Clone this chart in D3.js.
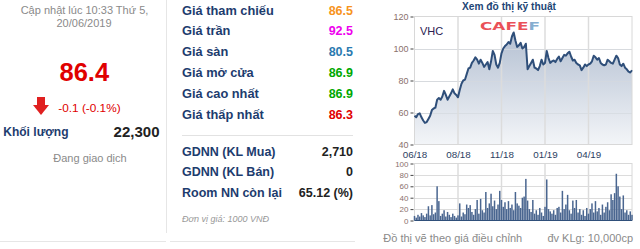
<!DOCTYPE html>
<html><head><meta charset="utf-8">
<script src="https://cdn.jsdelivr.net/npm/d3@7"></script>
<style>
html,body{margin:0;padding:0;background:#fff;}
svg{display:block;font-family:"Liberation Sans",Arial,sans-serif;}
</style></head>
<body>
<svg id="c" width="640" height="249"></svg>
<script>
// ---------- data ----------
const priceIndex = [0,2,4,6,8,10,12,14,16,18,20,22,24,26,28,30,32,34,36,38,40,42,44,46,48,50,52,54,56,58,60,62,64,66,68,70,72,74,76,78,80,82,84,86,88,90,92,94,96,98,100,102,104,106,108,110,112,114,116,118,120,122,124,126,128,130,132,134,136,138,140,142,144,146,148,150,152,154,156,158,160,162,164,166,168,170,172,174,176,178,180,182,184,186,188,190,192,194,196,198,200,202,204,206,208,210,212,214,216,218,220,222,224,226,228,230,232,234,236,238,240,242,244,246,248,250];
const priceValues = [58,57,59,59.5,57,55,53.5,54,56,58,61.5,62.5,63,68,69,68,70,73.5,71,68,70,72,74.5,72,71,69.5,74,78,80,80.5,84,87.5,88,91,92.5,94.5,93,90.5,93,91,88.5,90,91.5,87,92,98.5,96,90,88,91,97,100,101.5,102.5,104,103,107.5,110,105,101,102,103.5,100,101,103,87,89,91,93,88,87.5,86.5,89,93,90,91,98.5,94,91,92,92.5,91.5,93.5,95,92,94,96,95.5,97,98,95,92.5,93,91,90,89.5,86.5,88,90,89,90,90.5,92,95.5,94.5,93,94,91,90,89.5,90,93,92,91,90.5,93,95.5,94,90,89,90.5,88,87,85.5,85,86.4];
const volumeValues = [8,5,10,7,13,9,6,12,25,9,27,11,14,60,34,8,12,18,7,15,10,6,12,8,5,9,30,7,14,11,28,22,27,15,10,20,36,12,38,18,14,50,22,30,47,25,35,20,28,52,36,24,32,20,34,22,28,18,50,30,26,22,40,42,73,35,20,15,36,12,18,10,22,14,8,24,72,20,16,12,18,10,22,24,14,52,20,28,45,18,12,35,22,36,14,20,10,18,8,22,12,20,30,14,34,16,22,10,28,14,24,32,18,46,36,48,82,60,42,20,44,14,18,10,16,10];
const xTickIndex = [0,50,100,150,200];
const xTickLabels = ["06/18","08/18","11/18","01/19","04/19"];
const priceTicks = [40,60,80,100,120];
const volumeTicks = [0,20,40,60,80,100];

const infoLabels = ["Giá tham chiếu","Giá trần","Giá sàn","Giá mở cửa","Giá cao nhất","Giá thấp nhất"];
const infoValues = ["86.5","92.5","80.5","86.9","86.9","86.3"];
const infoColors = ["#f7941d","#ee00ee","#2a7ab0","#00a800","#00a800","#e00000"];
const foreignLabels = ["GDNN (KL Mua)","GDNN (KL Bán)","Room NN còn lại"];
const foreignValues = ["2,710","0","65.12 (%)"];

// ---------- drawing ----------
const svg = d3.select("#c");
const navy = "#1d3c6e";

// left panel
svg.append("line").attr("x1",166.5).attr("x2",166.5).attr("y1",0).attr("y2",233).attr("stroke","#e6e6e6");
svg.append("text").attr("x",84.5).attr("y",14).attr("text-anchor","middle").attr("font-size",11).attr("fill","#8a8a8a").text("Cập nhật lúc 10:33 Thứ 5,");
svg.append("text").attr("x",84).attr("y",27).attr("text-anchor","middle").attr("font-size",11).attr("fill","#8a8a8a").text("20/06/2019");
svg.append("text").attr("x",84.3).attr("y",81).attr("text-anchor","middle").attr("font-size",25.5).attr("font-weight","bold").attr("fill","#e00000").text("86.4");
// down arrow
const ar = svg.append("g").attr("fill","#e02020");
ar.append("rect").attr("x",37).attr("y",97).attr("width",8).attr("height",9);
ar.append("path").attr("d","M33,105 L49,105 L41,115 Z");
svg.append("text").attr("x",58.3).attr("y",111.5).attr("font-size",11.8).attr("fill","#e00000").text("-0.1 (-0.1%)");
svg.append("text").attr("x",3.3).attr("y",136).attr("font-size",12).attr("font-weight","bold").attr("fill",navy).text("Khối lượng");
svg.append("text").attr("x",159.5).attr("y",136.5).attr("text-anchor","end").attr("font-size",15).attr("font-weight","bold").attr("fill","#222").text("22,300");
svg.append("text").attr("x",90).attr("y",162).attr("text-anchor","middle").attr("font-size",11).attr("fill","#8a8a8a").text("Đang giao dịch");
svg.append("line").attr("x1",0).attr("x2",166).attr("y1",241.5).attr("y2",241.5).attr("stroke","#e6e6e6");

// middle panel
const rowY = d3.scaleLinear().domain([0,5]).range([14.5,118.5]);
infoLabels.forEach((l,i)=>{
  svg.append("text").attr("x",182).attr("y",rowY(i)).attr("font-size",12.8).attr("font-weight","bold").attr("fill",navy).text(l);
  svg.append("text").attr("x",353).attr("y",rowY(i)).attr("text-anchor","end").attr("font-size",12.5).attr("font-weight","bold").attr("fill",infoColors[i]).text(infoValues[i]);
});
svg.append("line").attr("x1",182).attr("x2",353).attr("y1",135.5).attr("y2",135.5).attr("stroke","#e2e2e2");
const fY = d3.scaleLinear().domain([0,2]).range([155.5,197]);
foreignLabels.forEach((l,i)=>{
  svg.append("text").attr("x",182).attr("y",fY(i)).attr("font-size",12.5).attr("font-weight","bold").attr("fill",navy).text(l);
  svg.append("text").attr("x",353).attr("y",fY(i)).attr("text-anchor","end").attr("font-size",12.5).attr("font-weight","bold").attr("fill","#222").text(foreignValues[i]);
});
svg.append("text").attr("x",182).attr("y",221.5).attr("font-size",9).attr("font-style","italic").attr("fill","#999").text("Đơn vị giá: 1000 VNĐ");
svg.append("line").attr("x1",170).attr("x2",355).attr("y1",241.5).attr("y2",241.5).attr("stroke","#e6e6e6");

// right panel : chart
svg.append("text").attr("x",509).attr("y",9.5).attr("text-anchor","middle").attr("font-size",10.2).attr("font-weight","bold").attr("fill","#1d4676").text("Xem đồ thị kỹ thuật");

const x = d3.scaleLinear().domain([0,250]).range([414.5,632]);
const y = d3.scaleLinear().domain([40,120]).range([144.5,16.5]);
const yv = d3.scaleLinear().domain([0,100]).range([220.5,163.5]);

const defs = svg.append("defs");
const grad = defs.append("linearGradient").attr("id","g").attr("gradientUnits","userSpaceOnUse")
  .attr("x1",0).attr("y1",y(110)).attr("x2",0).attr("y2",y(40));
grad.append("stop").attr("offset",0).attr("stop-color","#b4c0d2");
grad.append("stop").attr("offset",1).attr("stop-color","#f3f5f8");

// price grid
const gridColor = "#dcdcdc";
svg.append("g").selectAll("line").data(priceTicks.slice(1,-1)).join("line")
  .attr("x1",x(0)).attr("x2",x(250)).attr("y1",d=>Math.round(y(d))+0.5).attr("y2",d=>Math.round(y(d))+0.5).attr("stroke",gridColor);
// area
const pts = priceIndex.map((d,i)=>[d,priceValues[i]]);
svg.append("path").datum(pts).attr("fill","url(#g)")
  .attr("d",d3.area().x(d=>x(d[0])).y0(y(40)).y1(d=>y(d[1])));
svg.append("g").selectAll("line").data(priceTicks.slice(1,-1)).join("line")
  .attr("x1",x(0)).attr("x2",x(250)).attr("y1",d=>Math.round(y(d))+0.5).attr("y2",d=>Math.round(y(d))+0.5).attr("stroke","#d4d8de").attr("stroke-opacity",0.7);
svg.append("g").selectAll("line").data(xTickIndex.slice(1)).join("line")
  .attr("x1",d=>x(d)).attr("x2",d=>x(d)).attr("y1",y(120)).attr("y2",y(40)).attr("stroke",gridColor).attr("stroke-width",1.5);
svg.append("rect").attr("x",x(0)).attr("y",y(120)).attr("width",x(250)-x(0)).attr("height",y(40)-y(120))
  .attr("fill","none").attr("stroke","#d8d8d8");
svg.append("path").datum(pts).attr("fill","none").attr("stroke","#2f4f7a").attr("stroke-width",2).attr("stroke-linejoin","round")
  .attr("d",d3.line().x(d=>x(d[0])).y(d=>y(d[1])));

// price axis
const ax = svg.append("g").attr("transform",`translate(${x(0)-1},0)`)
  .call(d3.axisLeft(y).tickValues(priceTicks).tickSize(3).tickPadding(2));
ax.select(".domain").remove();
ax.selectAll("line").attr("stroke","#444");
ax.selectAll("text").attr("font-size",9).attr("fill","#8a706c").attr("font-family","Liberation Sans,Arial");

// x axis labels
const xa = svg.append("g").attr("transform",`translate(0,${y(40)+4.5})`)
  .call(d3.axisBottom(x).tickValues(xTickIndex).tickFormat((d,i)=>xTickLabels[i]).tickSize(0).tickPadding(2));
xa.select(".domain").remove();
xa.selectAll("text").attr("font-size",9.8).attr("fill","#2c3e62").attr("font-family","Liberation Sans,Arial");

// VHC label + logo
svg.append("text").attr("x",420).attr("y",34.5).attr("font-size",11).attr("fill","#2a2050").text("VHC");
const logo = svg.append("text").attr("x",480).attr("y",29.5).attr("font-size",10.5).attr("font-weight","bold")
  .attr("textLength",60).attr("lengthAdjust","spacingAndGlyphs").attr("font-family","DejaVu Sans");
logo.append("tspan").attr("fill","#ea5058").text("CAFE");
logo.append("tspan").attr("fill","#86aed0").text("F");

// volume chart
svg.append("g").selectAll("line").data(volumeTicks.slice(1,-1)).join("line")
  .attr("x1",x(0)).attr("x2",x(250)).attr("y1",d=>Math.round(yv(d))+0.5).attr("y2",d=>Math.round(yv(d))+0.5).attr("stroke",gridColor);
svg.append("g").selectAll("line").data(xTickIndex.slice(1)).join("line")
  .attr("x1",d=>x(d)).attr("x2",d=>x(d)).attr("y1",yv(100)).attr("y2",yv(0)).attr("stroke",gridColor).attr("stroke-width",1.5);
svg.append("rect").attr("x",x(0)).attr("y",yv(100)).attr("width",x(250)-x(0)).attr("height",yv(0)-yv(100))
  .attr("fill","none").attr("stroke","#d8d8d8");
svg.append("g").selectAll("rect").data(volumeValues).join("rect")
  .attr("x",(d,i)=>x(priceIndex[i])-0.75).attr("width",1.5)
  .attr("y",d=>yv(d)).attr("height",d=>yv(0)-yv(d)).attr("fill","#4a6690");
svg.append("line").attr("x1",x(0)).attr("x2",x(250)).attr("y1",yv(0)).attr("y2",yv(0)).attr("stroke","#2f4f7a");

const av = svg.append("g").attr("transform",`translate(${x(0)-1},0)`)
  .call(d3.axisLeft(yv).tickValues(volumeTicks).tickSize(3).tickPadding(2));
av.select(".domain").remove();
av.selectAll("line").attr("stroke","#444");
av.selectAll("text").attr("font-size",8).attr("fill","#8a706c").attr("font-family","Liberation Sans,Arial");

svg.append("text").attr("x",383.3).attr("y",242).attr("font-size",11).attr("fill","#8a8a8a").text("Đồ thị vẽ theo giá điều chỉnh");
svg.append("text").attr("x",633).attr("y",242).attr("text-anchor","end").attr("font-size",11).attr("fill","#8a8a8a").text("đv KLg: 10,000cp");
</script>
</body></html>
